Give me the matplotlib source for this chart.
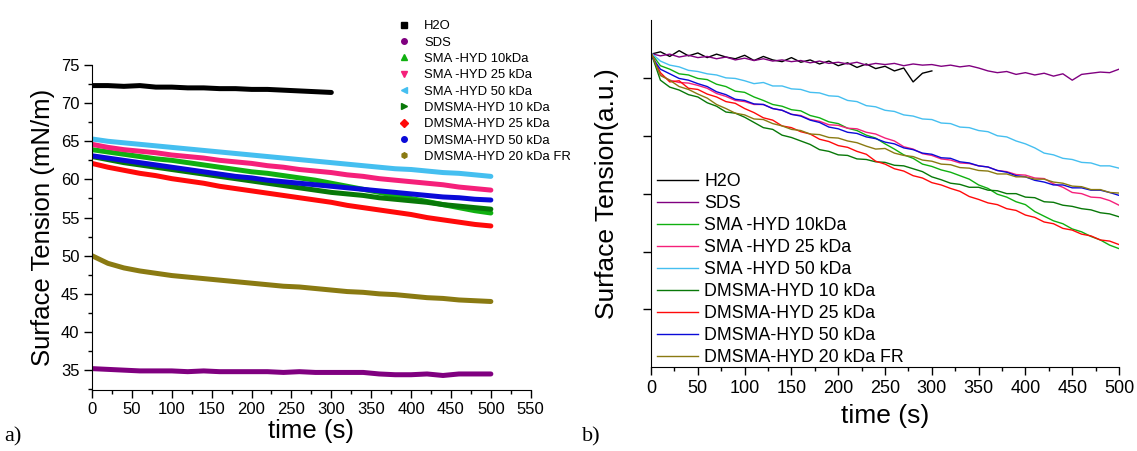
import numpy as np
import matplotlib
matplotlib.use("Agg")
import matplotlib.pyplot as plt
from matplotlib.lines import Line2D
from matplotlib.ticker import MultipleLocator

plt.rcParams['font.family'] = ['Liberation Sans', 'DejaVu Sans']

labels = ['H2O', 'SDS', 'SMA -HYD 10kDa', 'SMA -HYD 25 kDa', 'SMA -HYD 50 kDa',
          'DMSMA-HYD 10 kDa', 'DMSMA-HYD 25 kDa', 'DMSMA-HYD 50 kDa', 'DMSMA-HYD 20 kDa FR']
labels_b = ['H2O', 'SDS', 'SMA -HYD 10kDa', 'SMA -HYD 25 kDa', 'SMA -HYD 50 kDa',
            'DMSMA-HYD 10 kDa', 'DMSMA-HYD 25 kDa', 'DMSMA-HYD 50 kDa', 'DMSMA-HYD 20 kDa FR']
colors = ['#000000', '#800080', '#10b010', '#f5207a', '#45bff0',
          '#087808', '#ff0a0a', '#0a0ad8', '#8a7a12']
markers = ['s', 'o', '^', 'v', '<', '>', 'D', 'o', 'h']

# ---- panel a) : surface tension in mN/m, every 20 s ----
t_a = np.arange(0, 501, 20)
t_a_h2o = np.arange(0, 301, 20)
a_h2o = [72.3, 72.3, 72.2, 72.3, 72.1, 72.1, 72.0, 72.0, 71.9, 71.9, 71.8, 71.8, 71.7, 71.6, 71.5, 71.4]
a_sds = [35.2, 35.1, 35.0, 34.9, 34.9, 34.9, 34.8, 34.9, 34.8, 34.8, 34.8, 34.8, 34.7,
         34.8, 34.7, 34.7, 34.7, 34.7, 34.5, 34.4, 34.4, 34.5, 34.3, 34.5, 34.5, 34.5]
a_sma10 = [63.9, 63.6, 63.3, 63.0, 62.7, 62.5, 62.2, 61.9, 61.6, 61.3, 61.0, 60.8, 60.5,
           60.2, 59.9, 59.5, 59.1, 58.7, 58.3, 57.9, 57.5, 57.1, 56.7, 56.3, 55.9, 55.6]
a_sma25 = [64.6, 64.2, 63.9, 63.7, 63.5, 63.2, 63.0, 62.8, 62.5, 62.3, 62.1, 61.8, 61.6,
           61.3, 61.1, 60.9, 60.6, 60.4, 60.1, 59.9, 59.7, 59.5, 59.3, 59.0, 58.8, 58.6]
a_sma50 = [65.3, 65.0, 64.8, 64.6, 64.4, 64.2, 64.0, 63.8, 63.6, 63.4, 63.2, 63.0, 62.8,
           62.6, 62.4, 62.2, 62.0, 61.8, 61.6, 61.4, 61.3, 61.1, 60.9, 60.8, 60.6, 60.4]
a_dm10 = [63.0, 62.6, 62.2, 61.9, 61.6, 61.3, 61.0, 60.7, 60.4, 60.1, 59.8, 59.5, 59.2,
          58.9, 58.6, 58.3, 58.1, 57.9, 57.6, 57.4, 57.2, 57.0, 56.7, 56.5, 56.3, 56.1]
a_dm25 = [62.1, 61.6, 61.2, 60.8, 60.5, 60.1, 59.8, 59.5, 59.1, 58.8, 58.5, 58.2, 57.9,
          57.6, 57.3, 57.0, 56.6, 56.3, 56.0, 55.7, 55.4, 55.0, 54.7, 54.4, 54.1, 53.9]
a_dm50 = [63.1, 62.8, 62.5, 62.2, 61.9, 61.6, 61.3, 61.0, 60.7, 60.4, 60.2, 59.9, 59.7,
          59.5, 59.3, 59.1, 58.9, 58.7, 58.5, 58.3, 58.1, 57.9, 57.7, 57.6, 57.4, 57.3]
a_fr = [50.0, 49.0, 48.4, 48.0, 47.7, 47.4, 47.2, 47.0, 46.8, 46.6, 46.4, 46.2, 46.0,
        45.9, 45.7, 45.5, 45.3, 45.2, 45.0, 44.9, 44.7, 44.5, 44.4, 44.2, 44.1, 44.0]

# ---- panel b) : normalised surface tension (a.u.), every 10 s ----
t_b = np.arange(0, 501, 10)
t_b_h2o = np.arange(0, 301, 10)
b_h2o = [5.41, 5.45, 5.37, 5.47, 5.38, 5.43, 5.35, 5.41, 5.36, 5.33, 5.39, 5.30, 5.37, 5.31, 5.28, 5.35,
         5.27, 5.31, 5.24, 5.29, 5.21, 5.26, 5.18, 5.24, 5.16, 5.20, 5.12, 5.17, 4.93, 5.08, 5.12]
b_sds = [5.42, 5.38, 5.41, 5.36, 5.39, 5.35, 5.37, 5.33, 5.36, 5.31, 5.34, 5.30, 5.33, 5.29, 5.31, 5.28,
         5.30, 5.26, 5.29, 5.25, 5.27, 5.24, 5.27, 5.22, 5.25, 5.23, 5.25, 5.21, 5.24, 5.22, 5.23, 5.20,
         5.22, 5.19, 5.21, 5.17, 5.12, 5.09, 5.11, 5.06, 5.09, 5.05, 5.08, 5.03, 5.07, 4.96, 5.06, 5.08,
         5.10, 5.09, 5.15]
b_sma10 = [5.43, 5.21, 5.15, 5.07, 5.05, 4.99, 4.97, 4.89, 4.85, 4.77, 4.75, 4.67, 4.61, 4.54, 4.51, 4.45,
           4.43, 4.35, 4.31, 4.24, 4.21, 4.13, 4.09, 4.01, 3.96, 3.86, 3.77, 3.67, 3.61, 3.51, 3.47, 3.41,
           3.37, 3.31, 3.25, 3.15, 3.09, 2.99, 2.94, 2.86, 2.81, 2.69, 2.61, 2.53, 2.48, 2.39, 2.34, 2.26,
           2.20, 2.11, 2.05]
b_sma25 = [5.43, 5.05, 4.96, 4.92, 4.91, 4.87, 4.82, 4.73, 4.68, 4.61, 4.59, 4.54, 4.54, 4.47, 4.44, 4.37,
           4.35, 4.28, 4.25, 4.19, 4.18, 4.13, 4.12, 4.06, 4.03, 3.96, 3.91, 3.81, 3.77, 3.69, 3.66, 3.60,
           3.58, 3.53, 3.52, 3.48, 3.46, 3.40, 3.38, 3.33, 3.32, 3.27, 3.26, 3.17, 3.11, 3.02, 3.00, 2.94,
           2.93, 2.88, 2.80]
b_sma50 = [5.43, 5.29, 5.22, 5.19, 5.13, 5.11, 5.07, 5.05, 5.00, 4.99, 4.95, 4.90, 4.92, 4.86, 4.86, 4.81,
           4.80, 4.75, 4.74, 4.69, 4.68, 4.61, 4.59, 4.52, 4.50, 4.44, 4.42, 4.36, 4.34, 4.29, 4.28, 4.22,
           4.21, 4.15, 4.14, 4.09, 4.07, 4.00, 3.98, 3.91, 3.86, 3.79, 3.70, 3.67, 3.61, 3.59, 3.54, 3.53,
           3.48, 3.48, 3.44]
b_dm10 = [5.43, 4.96, 4.84, 4.79, 4.71, 4.67, 4.57, 4.51, 4.41, 4.39, 4.32, 4.23, 4.14, 4.11, 4.01, 3.97,
          3.91, 3.85, 3.76, 3.73, 3.67, 3.66, 3.60, 3.59, 3.55, 3.54, 3.49, 3.48, 3.43, 3.38, 3.29, 3.24,
          3.18, 3.16, 3.11, 3.11, 3.06, 3.05, 3.00, 3.00, 2.94, 2.93, 2.86, 2.85, 2.80, 2.78, 2.74, 2.72,
          2.67, 2.65, 2.60]
b_dm25 = [5.43, 5.09, 4.93, 4.95, 4.82, 4.80, 4.72, 4.67, 4.59, 4.56, 4.47, 4.40, 4.31, 4.27, 4.17, 4.14,
          4.07, 4.03, 3.94, 3.90, 3.83, 3.80, 3.73, 3.68, 3.56, 3.51, 3.43, 3.39, 3.31, 3.27, 3.19, 3.15,
          3.09, 3.04, 2.95, 2.90, 2.84, 2.81, 2.74, 2.71, 2.63, 2.59, 2.51, 2.48, 2.40, 2.37, 2.30, 2.27,
          2.20, 2.18, 2.12]
b_dm50 = [5.38, 5.15, 5.07, 4.99, 4.96, 4.90, 4.85, 4.76, 4.71, 4.63, 4.61, 4.55, 4.54, 4.47, 4.44, 4.37,
          4.34, 4.27, 4.23, 4.15, 4.12, 4.06, 4.04, 3.98, 3.95, 3.89, 3.86, 3.79, 3.76, 3.70, 3.68, 3.62,
          3.61, 3.55, 3.53, 3.48, 3.46, 3.40, 3.37, 3.31, 3.29, 3.23, 3.20, 3.15, 3.15, 3.10, 3.10, 3.06,
          3.06, 3.02, 2.97]
b_fr = [5.43, 5.04, 4.96, 4.85, 4.80, 4.72, 4.65, 4.54, 4.47, 4.39, 4.36, 4.29, 4.28, 4.21, 4.17, 4.11,
        4.09, 4.03, 4.02, 3.97, 3.96, 3.91, 3.88, 3.82, 3.77, 3.78, 3.70, 3.66, 3.64, 3.58, 3.56, 3.51,
        3.50, 3.45, 3.44, 3.40, 3.39, 3.34, 3.34, 3.29, 3.29, 3.25, 3.25, 3.20, 3.18, 3.13, 3.12, 3.07,
        3.07, 3.02, 3.01]

fig = plt.figure(figsize=(11.37, 4.51), dpi=100)
ax1 = fig.add_axes([0.0809, 0.1353, 0.3859, 0.7206])
ax2 = fig.add_axes([0.5726, 0.1856, 0.4116, 0.7701])

# panel a
series_a = [(t_a_h2o, a_h2o), (t_a, a_sds), (t_a, a_sma10), (t_a, a_sma25), (t_a, a_sma50),
            (t_a, a_dm10), (t_a, a_dm25), (t_a, a_dm50), (t_a, a_fr)]
for (tt, yy), c in zip(series_a, colors):
    ax1.plot(tt, yy, color=c, lw=3.6, solid_capstyle='round')

ax1.set_xlim(0, 550)
ax1.set_ylim(32.4, 75)
ax1.xaxis.set_major_locator(MultipleLocator(50))
ax1.xaxis.set_minor_locator(MultipleLocator(25))
ax1.yaxis.set_major_locator(MultipleLocator(5))
ax1.yaxis.set_minor_locator(MultipleLocator(2.5))
ax1.set_xlabel('time (s)', fontsize=18.5, labelpad=1)
ax1.set_ylabel('Surface Tension (mN/m)', fontsize=18.5, labelpad=4)

handles_a = [Line2D([], [], ls='none', marker=m, color=c, markersize=4)
             for m, c in zip(markers, colors)]
fig.legend(handles_a, labels, loc='upper left', bbox_to_anchor=(0.350, 0.955),
           frameon=False, fontsize=9.4, handlelength=1.0, handletextpad=1.0,
           labelspacing=0.32, borderpad=0, borderaxespad=0)

# panel b
series_b = [(t_b_h2o, b_h2o), (t_b, b_sds), (t_b, b_sma10), (t_b, b_sma25), (t_b, b_sma50),
            (t_b, b_dm10), (t_b, b_dm25), (t_b, b_dm50), (t_b, b_fr)]
for (tt, yy), c, lab in zip(series_b, colors, labels_b):
    ax2.plot(tt, yy, color=c, lw=1.0, label=lab)

ax2.set_xlim(0, 500)
ax2.set_ylim(0, 6)
ax2.xaxis.set_major_locator(MultipleLocator(50))
ax2.xaxis.set_minor_locator(MultipleLocator(25))
ax2.set_yticks([1, 2, 3, 4, 5])
ax2.set_yticklabels([])
ax2.set_xlabel('time (s)', fontsize=19, labelpad=5)
ax2.set_ylabel('Surface Tension(a.u.)', fontsize=19, labelpad=14)
fig.legend(loc='upper left', bbox_to_anchor=(0.5778, 0.616), frameon=False,
           fontsize=12.8, handlelength=2.3, handletextpad=0.35, labelspacing=0.28,
           borderpad=0, borderaxespad=0)

for ax, fs in ((ax1, 12), (ax2, 13)):
    ax.spines['top'].set_visible(False)
    ax.spines['right'].set_visible(False)
    ax.tick_params(which='major', direction='out', length=6, width=1, labelsize=fs, pad=3)
    ax.tick_params(which='minor', direction='out', length=3, width=1)

fig.text(0.004, 0.022, 'a)', fontsize=16, family=['Liberation Serif', 'DejaVu Serif'])
fig.text(0.512, 0.022, 'b)', fontsize=16, family=['Liberation Serif', 'DejaVu Serif'])

fig.savefig('out.png', dpi=100)
